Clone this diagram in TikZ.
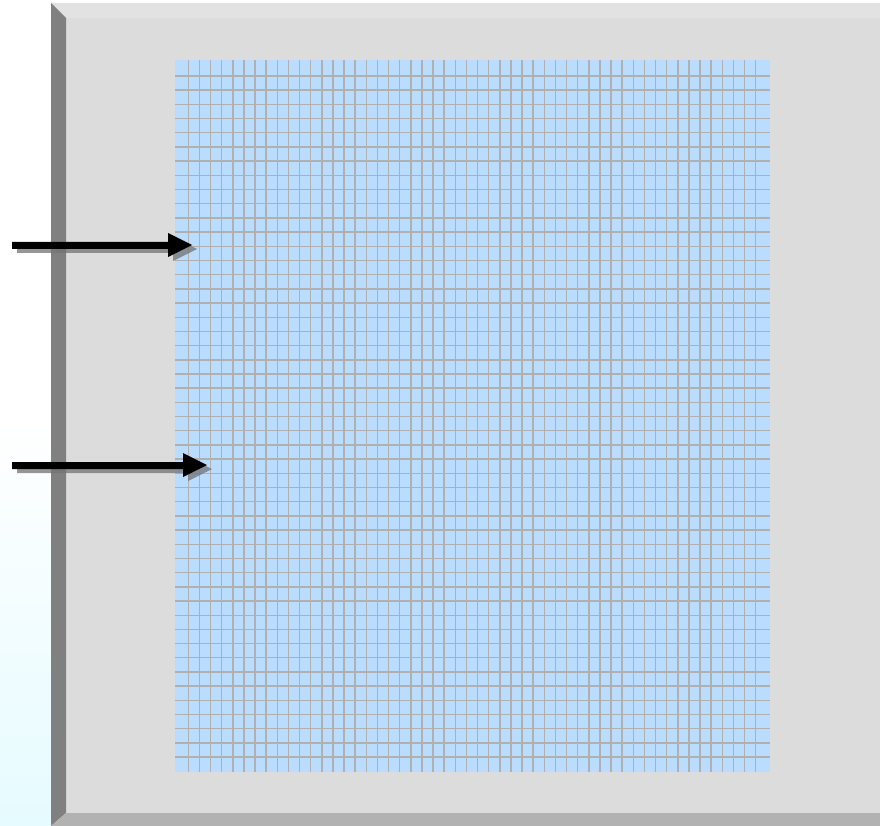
\documentclass[tikz,border=0pt]{standalone}
\usetikzlibrary{patterns}
\definecolor{face}{HTML}{DCDCDC}
\definecolor{topbev}{HTML}{E2E2E2}
\definecolor{leftbev}{HTML}{808080}
\definecolor{botbev}{HTML}{B2B2B2}
\definecolor{gridfill}{HTML}{BADCFF}
\definecolor{gridline}{HTML}{B0B0B0}
\definecolor{paleCyan}{HTML}{E6FBFF}
\tikzset{
  arrowbody/.style={fill=black},
  arrowshadow/.style={fill=black!55, opacity=0.75},
  gridrule/.style={draw=gridline, line width=1.4pt}
}
\begin{document}
\begin{tikzpicture}[x=1pt,y=-1pt]
\useasboundingbox (0,0) rectangle (880,826);
% left pale gradient strip
\fill[white] (0,0) rectangle (51,413);
\shade[top color=white, bottom color=paleCyan] (0,413) rectangle (51,826);
% panel face
\fill[face] (66,18) rectangle (880,813);
% bevels
\fill[topbev] (51,3) -- (880,3) -- (880,18) -- (66,18) -- cycle;
\fill[leftbev] (51,3) -- (66,18) -- (66,813) -- (51,826) -- cycle;
\fill[botbev] (51,826) -- (66,813) -- (880,813) -- (880,826) -- cycle;
% grid
\fill[gridfill] (175,60) rectangle (770,772);
\foreach \k in {0,...,51} {
  \draw[gridrule] ({188.3+\k*11.125},60) -- ({188.3+\k*11.125},772);
}
\foreach \k in {0,...,48} {
  \draw[gridrule] (175,{76+\k*14.19}) -- (770,{76+\k*14.19});
}
% arrow 1 (shadow then body)
\begin{scope}[shift={(5,4)}]
\fill[arrowshadow] (12,242) -- (168,242) -- (168,233) -- (192,245) -- (168,257) -- (168,249) -- (12,249) -- cycle;
\end{scope}
\fill[arrowbody] (12,242) -- (168,242) -- (168,233) -- (192,245) -- (168,257) -- (168,249) -- (12,249) -- cycle;
% arrow 2
\begin{scope}[shift={(5,4)}]
\fill[arrowshadow] (12,462) -- (183,462) -- (183,453) -- (207,465) -- (183,477) -- (183,469) -- (12,469) -- cycle;
\end{scope}
\fill[arrowbody] (12,462) -- (183,462) -- (183,453) -- (207,465) -- (183,477) -- (183,469) -- (12,469) -- cycle;
\end{tikzpicture}
\end{document}
